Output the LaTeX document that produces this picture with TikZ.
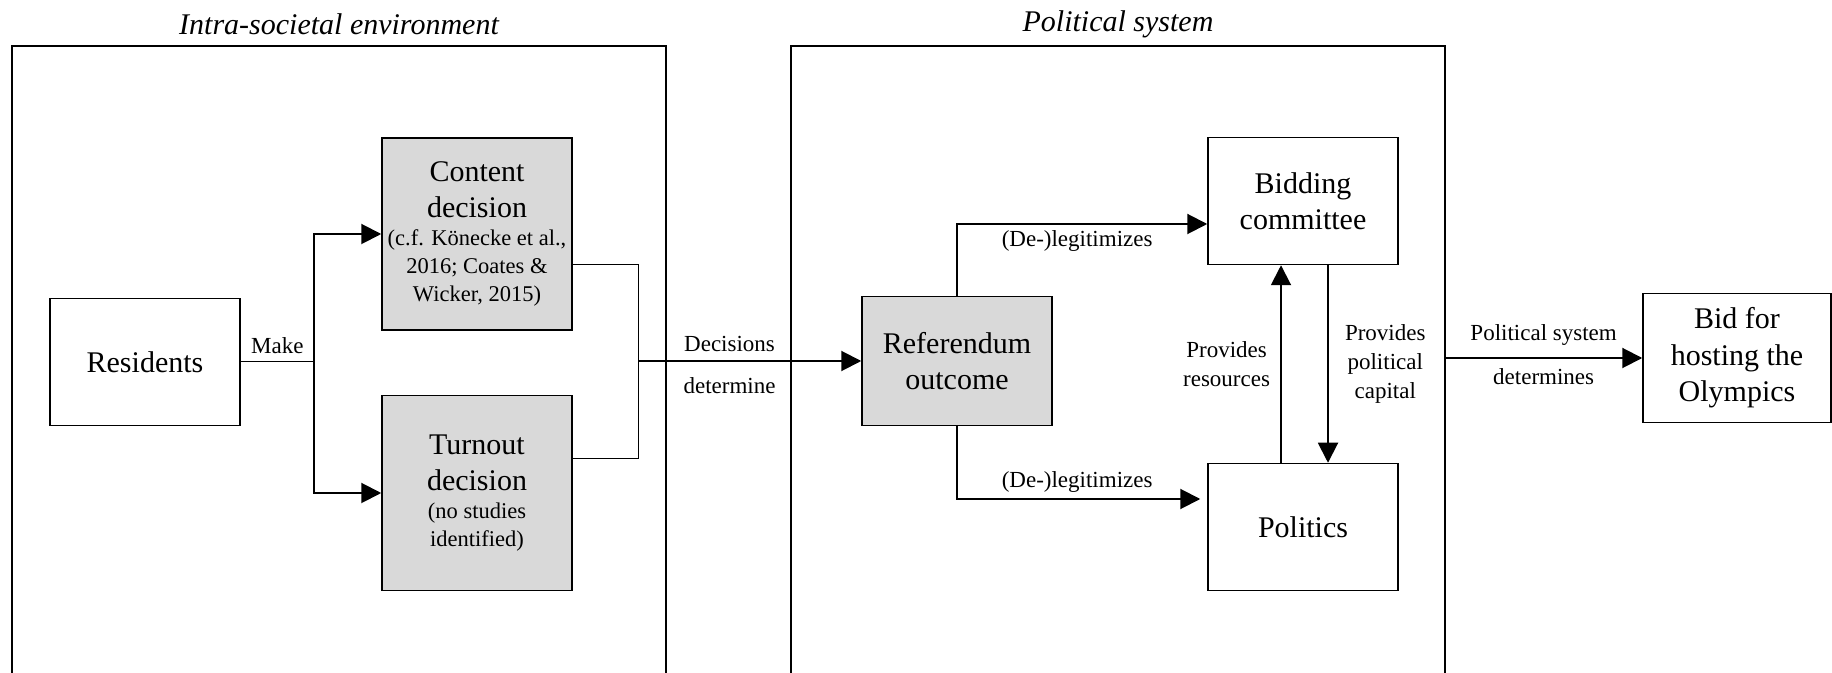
\documentclass[tikz,border=0pt]{standalone}
\usepackage{fontspec}
\setmainfont{Liberation Serif}
\usepackage{tikz}
\usetikzlibrary{arrows.meta}
\newcommand{\reffont}{\fontsize{11.25}{14}\selectfont}

\begin{document}
\begin{tikzpicture}[x=0.5pt, y=-0.5pt,
	box/.style={draw, line width=0.75pt, text width=91pt, inner sep=2pt, align=flush center, font=\fontsize{15}{18.25}\selectfont},
	greybox/.style={box, fill=black!15},
	lbl/.style={font=\fontsize{11.5}{14.5}\selectfont, align=center, inner sep=1pt},
	paneltitle/.style={font=\fontsize{15}{18}\selectfont\itshape},
	panel/.style={line width=0.75pt},
	arr/.style={line width=1pt, -{Triangle[length=10pt, width=10pt]}},
	thinline/.style={line width=0.5pt}]
			\useasboundingbox (0,0) rectangle (1832,673);
			
			% the two surroundings
			\node[paneltitle] (envtitle) at (339,24) {Intra-societal environment};
			\node[paneltitle] (systitle) at (1118,24) {Political system};
			\draw[panel] (12,673) -- (12,46) -- (666,46) -- (666,673);
			\draw[panel] (791,673) -- (791,46) -- (1445,46) -- (1445,673);
			\coordinate (sysedge) at (1445,358);
			
			% boxes
			\node[box, minimum height=63.5pt] (resid) at (145,362) {Residents};
			\node[greybox, minimum height=96pt] (content) at (477,234) {Content\\decision\par
				\reffont (c.f. Könecke et al.,\\2016; Coates \&\\Wicker, 2015)\par};
			\node[greybox, minimum height=97.5pt] (turn) at (477,493) {Turnout\\decision\par
				\reffont (no studies\\identified)\par};
			\node[greybox, minimum height=64.5pt] (ref) at (957,361) {Referendum\\outcome};
			\node[box, minimum height=63.5pt] (bid) at (1303,201) {Bidding\\committee};
			\node[box, minimum height=63.5pt] (pol) at (1303,527) {Politics};
			\node[box, text width=90pt, minimum height=64.5pt] (olymp) at (1737,358) {Bid for\\hosting the\\Olympics};
			
			% residents make the decisions
			\coordinate (split) at (314,362);
			\coordinate (join) at (638,361);
			\draw[thinline] (resid.east) -- node[lbl, above=3pt] {Make} (split);
			\draw[arr] (split) |- (content.west);
			\draw[arr] (split) |- (turn.west);
			\draw[thinline] ([yshift=-15.5pt]content.east) -| (join);
			\draw[thinline] ([yshift=17pt]turn.east) -| (join);
			\draw[arr] (join) -- node[lbl, above=3pt, pos=0.41] {Decisions}
				node[lbl, below=7pt, pos=0.41] {determine} (ref.west);
			
			% inside the political system
			\draw[arr] (ref.north) |- node[lbl, below=2pt, pos=0.74] {(De-)legitimizes} ([yshift=-11.5pt]bid.west);
			\draw[arr, shorten >=3.5pt] (ref.south) |- node[lbl, above=2pt, pos=0.74] {(De-)legitimizes} ([yshift=14pt]pol.west);
			\draw[arr] ([xshift=-11pt]pol.north) -- node[lbl, left=4pt] {Provides\\resources} ([xshift=-11pt]bid.south);
			\draw[arr] ([xshift=12.5pt]bid.south) -- node[lbl, right=7pt] {Provides\\political\\capital} ([xshift=12.5pt]pol.north);
			
			\draw[arr] (sysedge) -- node[lbl, above=5pt] {Political system}
				node[lbl, below=4pt] {determines} (olymp.west);
\end{tikzpicture}
\end{document}
